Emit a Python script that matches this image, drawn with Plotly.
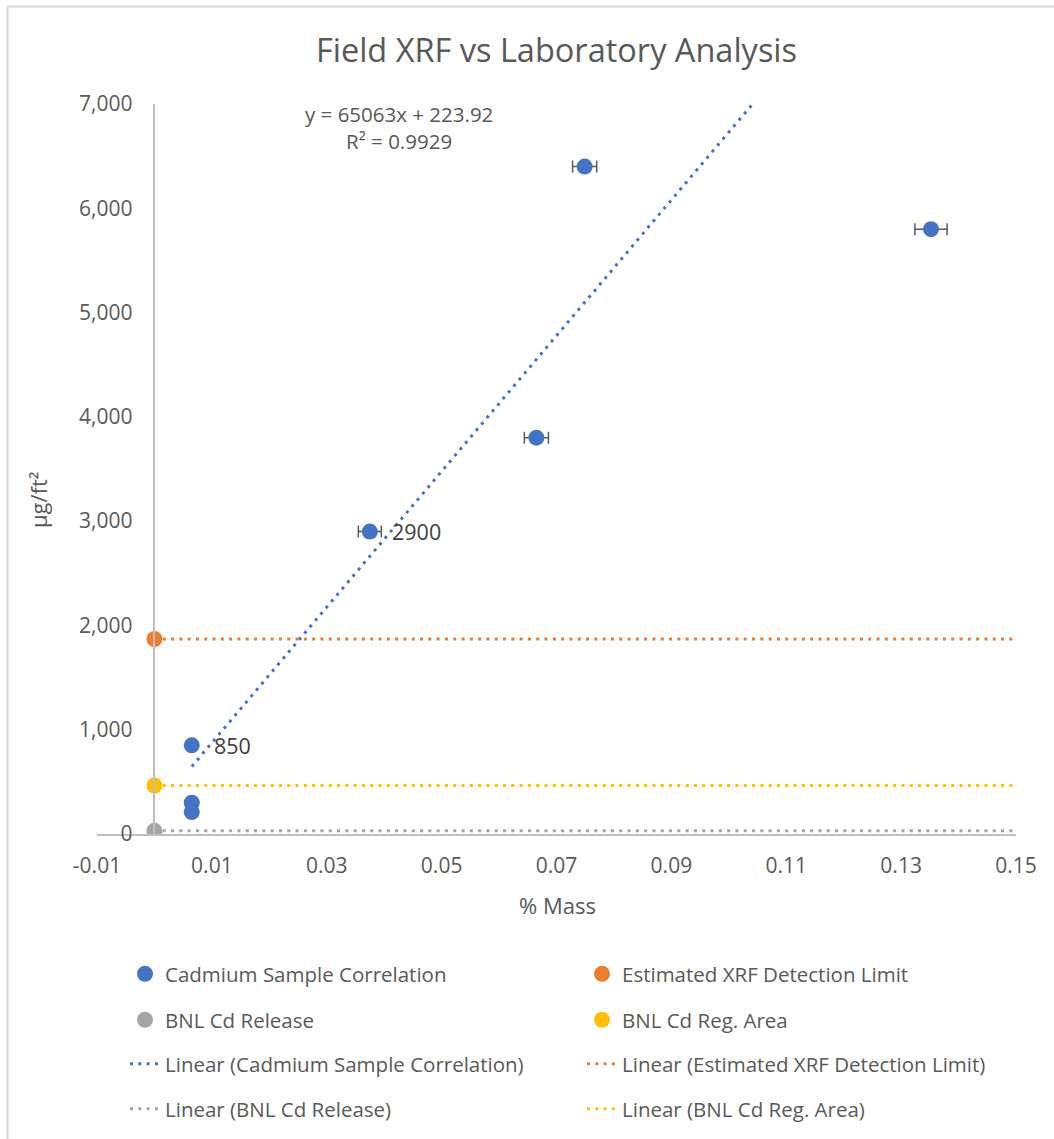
import plotly.graph_objects as go

# ---- data ----
cd_x = [0.0065, 0.0065, 0.0065, 0.0375, 0.0665, 0.0749, 0.1352]
cd_y = [850, 300, 210, 2900, 3800, 6400, 5800]
cd_xerr = [0, 0, 0, 0.0020, 0.0021, 0.0021, 0.0028]
cd_labels = ["850", "", "", "2900", "", "", ""]

det_x = [0]
det_y = [1870]
reg_x = [0]
reg_y = [465]
rel_x = [0]
rel_y = [30]

trend_slope = 65063
trend_intercept = 223.92
trend_r2 = 0.9929

x_end = 0.15
x_tickvals = [-0.01, 0.01, 0.03, 0.05, 0.07, 0.09, 0.11, 0.13, 0.15]
x_ticktext = ["-0.01", "0.01", "0.03", "0.05", "0.07", "0.09", "0.11", "0.13", "0.15"]
y_tickvals = [0, 1000, 2000, 3000, 4000, 5000, 6000, 7000]

BLUE = "#4472C4"
ORANGE = "#ED7D31"
GRAY = "#A5A5A5"
YELLOW = "#FFC000"
TXT = "#595959"
FONT = "Open Sans"

W, H = 1054, 1139
ML, MR, MT, MB = 97, 38, 104, 305
PW, PH = W - ML - MR, H - MT - MB


def px_x(p):
    return (p - ML) / PW


def px_y(p):
    return (H - MB - p) / PH


fig = go.Figure()

DOT = "3px,5.3px"

# trendlines (lines)
tx = [min(cd_x), max(cd_x)]
ty = [trend_slope * v + trend_intercept for v in tx]
fig.add_trace(go.Scatter(x=tx, y=ty, mode="lines", name="Linear (Cadmium Sample Correlation)",
                         line=dict(color=BLUE, width=3, dash=DOT), legend="legend3"))
fig.add_trace(go.Scatter(x=[det_x[0], x_end], y=[det_y[0], det_y[0]], mode="lines",
                         name="Linear (Estimated XRF Detection Limit)",
                         line=dict(color=ORANGE, width=3, dash=DOT), legend="legend3"))
fig.add_trace(go.Scatter(x=[rel_x[0], x_end], y=[rel_y[0], rel_y[0]], mode="lines",
                         name="Linear (BNL Cd Release)",
                         line=dict(color=GRAY, width=3, dash=DOT), legend="legend4"))
fig.add_trace(go.Scatter(x=[reg_x[0], x_end], y=[reg_y[0], reg_y[0]], mode="lines",
                         name="Linear (BNL Cd Reg. Area)",
                         line=dict(color=YELLOW, width=3, dash=DOT), legend="legend4"))

# markers
fig.add_trace(go.Scatter(x=cd_x, y=cd_y, mode="markers", name="Cadmium Sample Correlation",
                         marker=dict(color=BLUE, size=16),
                         error_x=dict(type="data", array=cd_xerr, visible=True,
                                      color=TXT, thickness=1.5, width=6),
                         legend="legend"))
fig.add_trace(go.Scatter(x=det_x, y=det_y, mode="markers", name="Estimated XRF Detection Limit",
                         marker=dict(color=ORANGE, size=16), legend="legend"))
fig.add_trace(go.Scatter(x=rel_x, y=rel_y, mode="markers", name="BNL Cd Release",
                         marker=dict(color=GRAY, size=16), legend="legend2"))
fig.add_trace(go.Scatter(x=reg_x, y=reg_y, mode="markers", name="BNL Cd Reg. Area",
                         marker=dict(color=YELLOW, size=16), legend="legend2"))

annotations = []
for xv, yv, lab in zip(cd_x, cd_y, cd_labels):
    if lab:
        annotations.append(dict(x=xv, y=yv, text=lab, showarrow=False, xanchor="left",
                                yanchor="middle", xshift=20,
                                font=dict(family=FONT, size=21.5, color="#404040")))

annotations.append(dict(x=0.0425, y=6905, text="y = %dx + %.2f" % (trend_slope, trend_intercept),
                        showarrow=False, xanchor="center", yanchor="middle",
                        font=dict(family=FONT, size=20.5, color=TXT)))
annotations.append(dict(x=0.0425, y=6650, text="R² = %.4f" % trend_r2,
                        showarrow=False, xanchor="center", yanchor="middle",
                        font=dict(family=FONT, size=20.5, color=TXT)))
annotations.append(dict(xref="paper", yref="paper", x=px_x(38), y=px_y(500), text="µg/ft²",
                        textangle=-90, showarrow=False, xanchor="center", yanchor="middle",
                        font=dict(family=FONT, size=22, color=TXT)))
annotations.append(dict(xref="paper", yref="paper", x=px_x(557), y=px_y(905), text="% Mass",
                        showarrow=False, xanchor="center", yanchor="middle",
                        font=dict(family=FONT, size=22, color=TXT)))

shapes = [
    dict(type="line", xref="paper", yref="paper", x0=px_x(7.5), x1=px_x(W + 5),
         y0=px_y(6.5), y1=px_y(6.5), line=dict(color="#D9D9D9", width=2)),
    dict(type="line", xref="paper", yref="paper", x0=px_x(7.5), x1=px_x(7.5),
         y0=px_y(6.5), y1=px_y(H + 5), line=dict(color="#D9D9D9", width=2)),
]

leg_common = dict(orientation="h", entrywidth=412, entrywidthmode="pixels",
                  x=px_x(125), xanchor="left", yanchor="middle",
                  font=dict(family=FONT, size=20.5, color=TXT), bgcolor="rgba(0,0,0,0)",
                  traceorder="normal")

yaxis_pos = (0 - (-0.01)) / (x_end - (-0.01))

fig.update_layout(
    width=W, height=H,
    margin=dict(l=ML, r=MR, t=MT, b=MB, autoexpand=False),
    paper_bgcolor="white", plot_bgcolor="white",
    title=dict(text="Field XRF vs Laboratory Analysis", x=0.5, xref="paper", xanchor="center",
               y=1 - 51 / H, yref="container", yanchor="middle",
               font=dict(family=FONT, size=32.5, color=TXT)),
    xaxis=dict(range=[-0.01, x_end], tickmode="array", tickvals=x_tickvals, ticktext=x_ticktext,
               showgrid=False, zeroline=False, showline=True, linecolor="#BFBFBF", linewidth=1.5,
               ticks="", ticklabelstandoff=12,
               tickfont=dict(family=FONT, size=21, color=TXT)),
    yaxis=dict(range=[0, 7000], tickmode="array", tickvals=y_tickvals, tickformat=",",
               showgrid=False, zeroline=False, showline=True, linecolor="#BFBFBF", linewidth=1.5,
               anchor="free", position=yaxis_pos, ticks="", ticklabelstandoff=17,
               tickfont=dict(family=FONT, size=21, color=TXT)),
    annotations=annotations,
    shapes=shapes,
    legend=dict(leg_common, y=px_y(974)),
    legend2=dict(leg_common, y=px_y(1020)),
    legend3=dict(leg_common, y=px_y(1064)),
    legend4=dict(leg_common, y=px_y(1109)),
    showlegend=True,
)

fig.write_html("out.html", config={"displayModeBar": False},
               post_script="document.body.style.margin='0';")
